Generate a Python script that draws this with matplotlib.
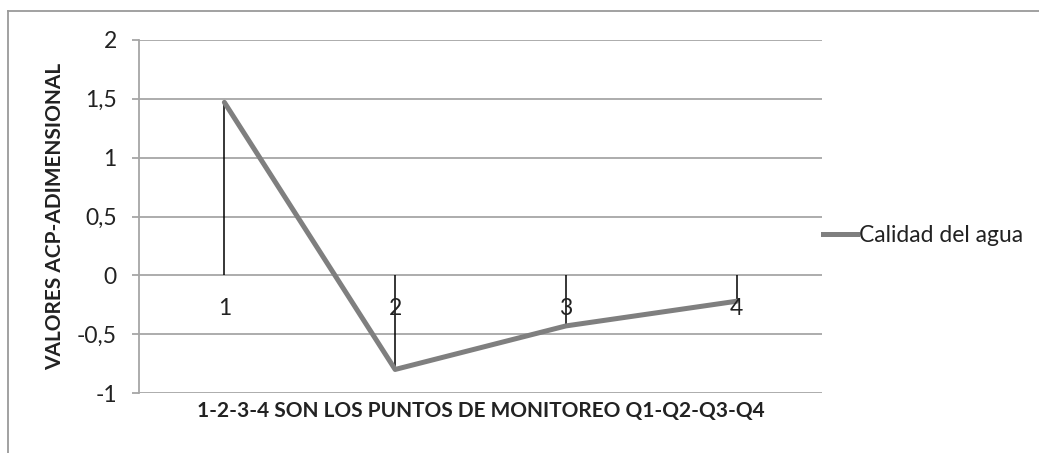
import matplotlib.pyplot as plt
from matplotlib.lines import Line2D
from matplotlib.ticker import FuncFormatter

plt.rcParams['font.family'] = ['Lato', 'DejaVu Sans']

# puntos de monitoreo y valores del ACP
puntos = ['1', '2', '3', '4']
calidad = [1.47, -0.80, -0.43, -0.22]
y_ticks = [-1, -0.5, 0, 0.5, 1, 1.5, 2]

fig = plt.figure(figsize=(10.39, 4.53), dpi=100)
ax = fig.add_axes([139 / 1039, 1 - 393 / 453, 683 / 1039, 353 / 453])

x = list(range(len(puntos)))

ax.set_xlim(-0.5, len(puntos) - 0.5)
ax.set_ylim(-1, 2)

# grid
for v in y_ticks:
    ax.axhline(v, color='#a6a6a6', lw=1.3, zorder=1)

# drop lines
ax.vlines(x, 0, calidad, colors='black', lw=1.1, zorder=2)
ax.plot(x, calidad, color='#7f7f7f', lw=3.6, solid_capstyle='round', zorder=3,
        label='Calidad del agua')

for xi, lab in zip(x, puntos):
    ax.annotate(lab, (xi, 0), xytext=(0, -24), textcoords='offset points',
                ha='center', va='center', fontsize=16.5, color='#222222', zorder=4)

ax.set_xticks([])
ax.set_yticks(y_ticks)
ax.yaxis.set_major_formatter(FuncFormatter(lambda v, p: ('%g' % v).replace('.', ',')))
ax.tick_params(axis='y', length=5, color='#a6a6a6', width=1.3, labelsize=16.5,
               labelcolor='#222222', pad=11)
for s in ['top', 'right', 'bottom']:
    ax.spines[s].set_visible(False)
ax.spines['left'].set_color('#a6a6a6')
ax.spines['left'].set_linewidth(1.3)

ax.set_ylabel('VALORES ACP-ADIMENSIONAL', fontsize=15, fontweight='bold',
              color='#222222')
ax.yaxis.set_label_coords(-0.108, 0.5)
ax.set_xlabel('1-2-3-4 SON LOS PUNTOS DE MONITOREO Q1-Q2-Q3-Q4', fontsize=15,
              fontweight='bold', color='#222222', labelpad=6)

fig.legend(handles=[Line2D([], [], color='#7f7f7f', lw=3.6)],
           labels=['Calidad del agua'], loc='center left',
           bbox_to_anchor=(823 / 1039, 1 - 236 / 453), frameon=False,
           fontsize=16.5, handlelength=1.5, handletextpad=0.05, borderpad=0,
           borderaxespad=0, labelcolor='#222222')

# chart border
fig.add_artist(Line2D([8 / 1039, 1], [1 - 11 / 453, 1 - 11 / 453],
                      transform=fig.transFigure, color='#9a9a9a', lw=1.3))
fig.add_artist(Line2D([8 / 1039, 8 / 1039], [0, 1 - 11 / 453],
                      transform=fig.transFigure, color='#9a9a9a', lw=1.3))

fig.savefig('out.png', dpi=100)
